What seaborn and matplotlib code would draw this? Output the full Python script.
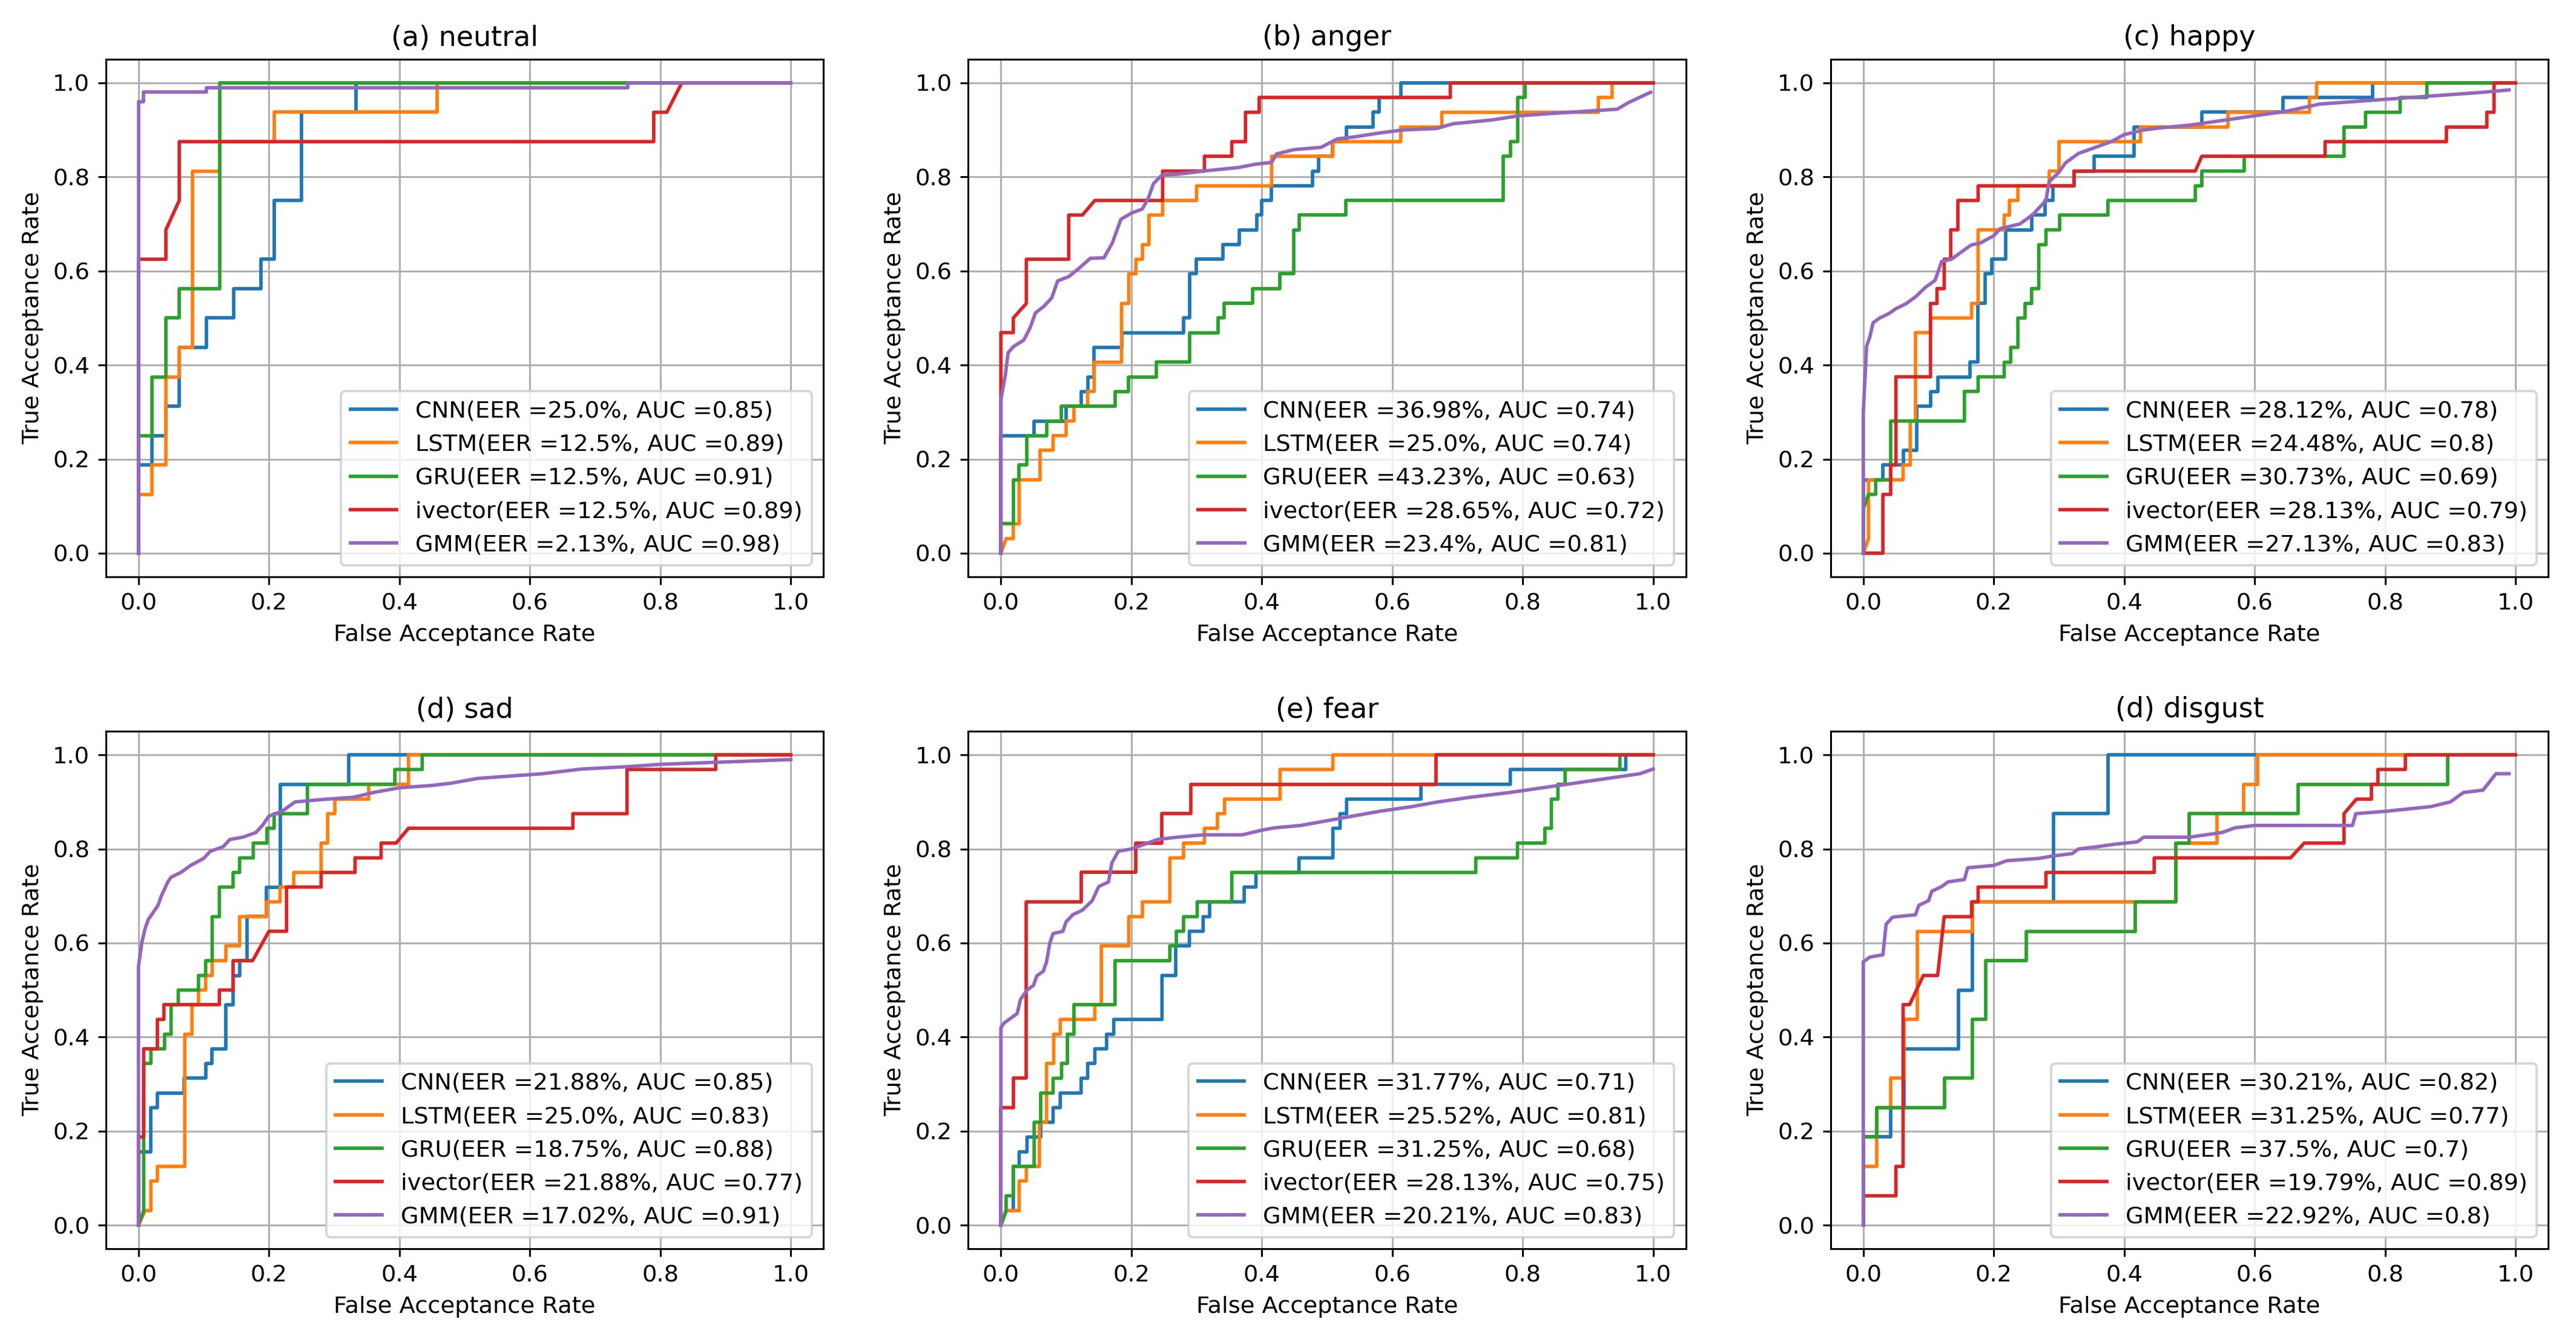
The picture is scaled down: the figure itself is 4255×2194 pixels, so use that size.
import matplotlib
matplotlib.use("Agg")
import matplotlib.pyplot as plt
import seaborn as sns

# ROC points: (false acceptance rate, true acceptance rate)
models = ["CNN", "LSTM", "GRU", "ivector", "GMM"]
titles = ["(a) neutral", "(b) anger", "(c) happy", "(d) sad", "(e) fear", "(d) disgust"]

eer_neutral = ["25.0", "12.5", "12.5", "12.5", "2.13"]
auc_neutral = ["0.85", "0.89", "0.91", "0.89", "0.98"]
eer_anger = ["36.98", "25.0", "43.23", "28.65", "23.4"]
auc_anger = ["0.74", "0.74", "0.63", "0.72", "0.81"]
eer_happy = ["28.12", "24.48", "30.73", "28.13", "27.13"]
auc_happy = ["0.78", "0.8", "0.69", "0.79", "0.83"]
eer_sad = ["21.88", "25.0", "18.75", "21.88", "17.02"]
auc_sad = ["0.85", "0.83", "0.88", "0.77", "0.91"]
eer_fear = ["31.77", "25.52", "31.25", "28.13", "20.21"]
auc_fear = ["0.71", "0.81", "0.68", "0.75", "0.83"]
eer_disgust = ["30.21", "31.25", "37.5", "19.79", "22.92"]
auc_disgust = ["0.82", "0.77", "0.7", "0.89", "0.8"]

# neutral
neutral_cnn = [(0, 0), (0, 0.1875), (0.021, 0.1875), (0.021, 0.25), (0.042, 0.25), (0.042, 0.3125),
               (0.0625, 0.3125), (0.0625, 0.4375), (0.104, 0.4375), (0.104, 0.5), (0.146, 0.5),
               (0.146, 0.5625), (0.1875, 0.5625), (0.1875, 0.625), (0.208, 0.625), (0.208, 0.75),
               (0.25, 0.75), (0.25, 0.9375), (0.333, 0.9375), (0.333, 1.0), (1.0, 1.0)]
neutral_lstm = [(0, 0), (0, 0.125), (0.021, 0.125), (0.021, 0.1875), (0.042, 0.1875), (0.042, 0.375),
                (0.0625, 0.375), (0.0625, 0.4375), (0.083, 0.4375), (0.083, 0.8125), (0.125, 0.8125),
                (0.125, 0.875), (0.208, 0.875), (0.208, 0.9375), (0.458, 0.9375), (0.458, 1.0), (1.0, 1.0)]
neutral_gru = [(0, 0), (0, 0.25), (0.021, 0.25), (0.021, 0.375), (0.042, 0.375), (0.042, 0.5),
               (0.0625, 0.5), (0.0625, 0.5625), (0.125, 0.5625), (0.125, 1.0), (1.0, 1.0)]
neutral_ivector = [(0, 0), (0, 0.625), (0.042, 0.625), (0.042, 0.6875), (0.0625, 0.75), (0.0625, 0.875),
                   (0.79, 0.875), (0.79, 0.9375), (0.81, 0.9375), (0.833, 1.0), (1.0, 1.0)]
neutral_gmm = [(0, 0), (0, 0.96), (0.008, 0.96), (0.008, 0.98), (0.104, 0.98), (0.104, 0.99),
               (0.75, 0.99), (0.75, 1.0), (1.0, 1.0)]

# anger
anger_cnn = [(0, 0), (0, 0.25), (0.051, 0.25), (0.051, 0.281), (0.1, 0.281), (0.1, 0.3125),
             (0.123, 0.3125), (0.123, 0.344), (0.133, 0.344), (0.133, 0.375), (0.143, 0.375),
             (0.143, 0.4375), (0.185, 0.4375), (0.185, 0.469), (0.28, 0.469), (0.28, 0.5),
             (0.289, 0.5), (0.289, 0.594), (0.3, 0.594), (0.3, 0.625), (0.34, 0.625), (0.34, 0.656),
             (0.365, 0.656), (0.365, 0.6875), (0.392, 0.6875), (0.392, 0.719), (0.4, 0.719),
             (0.4, 0.75), (0.415, 0.75), (0.415, 0.781), (0.478, 0.781), (0.478, 0.8125),
             (0.487, 0.8125), (0.487, 0.844), (0.508, 0.844), (0.508, 0.875), (0.53, 0.875),
             (0.53, 0.906), (0.571, 0.906), (0.571, 0.9375), (0.58, 0.9375), (0.58, 0.969),
             (0.613, 0.969), (0.613, 1.0), (1.0, 1.0)]
anger_lstm = [(0, 0), (0.008, 0.031), (0.019, 0.031), (0.019, 0.0625), (0.028, 0.0625), (0.028, 0.156),
              (0.06, 0.156), (0.06, 0.219), (0.08, 0.219), (0.08, 0.25), (0.1, 0.25), (0.1, 0.281),
              (0.112, 0.281), (0.112, 0.3125), (0.133, 0.3125), (0.133, 0.344), (0.143, 0.344),
              (0.143, 0.406), (0.185, 0.406), (0.185, 0.531), (0.196, 0.531), (0.196, 0.594),
              (0.207, 0.594), (0.207, 0.625), (0.217, 0.625), (0.217, 0.656), (0.227, 0.656),
              (0.227, 0.719), (0.248, 0.719), (0.248, 0.75), (0.3, 0.75), (0.3, 0.781), (0.415, 0.781),
              (0.415, 0.844), (0.509, 0.844), (0.509, 0.875), (0.613, 0.875), (0.613, 0.906),
              (0.676, 0.906), (0.676, 0.9375), (0.916, 0.9375), (0.916, 0.969), (0.937, 0.969),
              (0.937, 1.0), (1.0, 1.0)]
anger_gru = [(0, 0), (0, 0.0625), (0.019, 0.0625), (0.019, 0.156), (0.028, 0.156), (0.028, 0.1875),
             (0.04, 0.1875), (0.04, 0.25), (0.07, 0.25), (0.07, 0.281), (0.093, 0.281), (0.093, 0.3125),
             (0.175, 0.3125), (0.175, 0.344), (0.196, 0.344), (0.196, 0.375), (0.238, 0.375),
             (0.238, 0.406), (0.289, 0.406), (0.289, 0.469), (0.333, 0.469), (0.333, 0.5),
             (0.342, 0.5), (0.342, 0.531), (0.386, 0.531), (0.386, 0.5625), (0.428, 0.5625),
             (0.428, 0.594), (0.449, 0.594), (0.449, 0.6875), (0.457, 0.6875), (0.457, 0.719),
             (0.529, 0.719), (0.529, 0.75), (0.77, 0.75), (0.77, 0.844), (0.781, 0.844),
             (0.781, 0.875), (0.792, 0.875), (0.792, 0.969), (0.804, 0.969), (0.804, 1.0), (1.0, 1.0)]
anger_ivector = [(0, 0), (0, 0.469), (0.019, 0.469), (0.019, 0.5), (0.039, 0.531), (0.039, 0.625),
                 (0.104, 0.625), (0.104, 0.719), (0.125, 0.719), (0.144, 0.75), (0.248, 0.75),
                 (0.248, 0.8125), (0.312, 0.8125), (0.312, 0.844), (0.354, 0.844), (0.354, 0.875),
                 (0.375, 0.875), (0.375, 0.9375), (0.396, 0.9375), (0.396, 0.969), (0.689, 0.969),
                 (0.689, 1.0), (1.0, 1.0)]
anger_gmm = [(0, 0), (0, 0.326), (0.007, 0.381), (0.011, 0.426), (0.019, 0.439), (0.035, 0.453),
             (0.045, 0.48), (0.053, 0.511), (0.066, 0.525), (0.078, 0.543), (0.087, 0.579),
             (0.104, 0.588), (0.12, 0.606), (0.137, 0.627), (0.158, 0.628), (0.171, 0.66),
             (0.184, 0.71), (0.2, 0.723), (0.217, 0.732), (0.226, 0.755), (0.234, 0.786),
             (0.247, 0.804), (0.272, 0.806), (0.314, 0.813), (0.364, 0.82), (0.39, 0.827),
             (0.415, 0.831), (0.423, 0.849), (0.449, 0.858), (0.491, 0.863), (0.516, 0.881),
             (0.541, 0.885), (0.583, 0.894), (0.617, 0.9), (0.668, 0.903), (0.693, 0.913),
             (0.752, 0.921), (0.794, 0.93), (0.844, 0.935), (0.945, 0.944), (0.962, 0.958),
             (0.996, 0.98)]

# happy
happy_cnn = [(0, 0), (0, 0.156), (0.03, 0.156), (0.03, 0.1875), (0.061, 0.1875), (0.061, 0.219),
             (0.082, 0.219), (0.082, 0.3125), (0.103, 0.3125), (0.103, 0.344), (0.114, 0.344),
             (0.114, 0.375), (0.164, 0.375), (0.164, 0.406), (0.176, 0.406), (0.176, 0.531),
             (0.187, 0.531), (0.187, 0.594), (0.197, 0.594), (0.197, 0.625), (0.218, 0.625),
             (0.218, 0.6875), (0.258, 0.6875), (0.258, 0.719), (0.279, 0.719), (0.279, 0.75),
             (0.291, 0.75), (0.291, 0.781), (0.323, 0.781), (0.323, 0.8125), (0.354, 0.8125),
             (0.354, 0.844), (0.415, 0.844), (0.415, 0.906), (0.519, 0.906), (0.519, 0.9375),
             (0.643, 0.9375), (0.643, 0.969), (0.781, 0.969), (0.781, 1.0), (1.0, 1.0)]
happy_lstm = [(0, 0), (0.008, 0.031), (0.008, 0.156), (0.061, 0.156), (0.061, 0.1875), (0.072, 0.1875),
              (0.072, 0.281), (0.08, 0.281), (0.08, 0.469), (0.103, 0.469), (0.103, 0.5), (0.166, 0.5),
              (0.166, 0.531), (0.176, 0.531), (0.176, 0.6875), (0.216, 0.6875), (0.216, 0.719),
              (0.224, 0.719), (0.224, 0.75), (0.237, 0.75), (0.237, 0.781), (0.285, 0.781),
              (0.285, 0.8125), (0.3, 0.8125), (0.3, 0.875), (0.425, 0.875), (0.425, 0.906),
              (0.559, 0.906), (0.559, 0.9375), (0.684, 0.9375), (0.684, 0.969), (0.695, 0.969),
              (0.695, 1.0), (1.0, 1.0)]
happy_gru = [(0, 0), (0, 0.094), (0.008, 0.125), (0.019, 0.125), (0.019, 0.156), (0.042, 0.156),
             (0.042, 0.281), (0.155, 0.281), (0.155, 0.344), (0.176, 0.344), (0.176, 0.375),
             (0.216, 0.375), (0.216, 0.406), (0.226, 0.406), (0.226, 0.4375), (0.237, 0.4375),
             (0.237, 0.5), (0.248, 0.5), (0.248, 0.531), (0.258, 0.531), (0.258, 0.5625),
             (0.269, 0.5625), (0.269, 0.656), (0.28, 0.656), (0.28, 0.6875), (0.301, 0.6875),
             (0.301, 0.719), (0.375, 0.719), (0.375, 0.75), (0.509, 0.75), (0.509, 0.781),
             (0.519, 0.781), (0.519, 0.8125), (0.584, 0.8125), (0.584, 0.844), (0.737, 0.844),
             (0.737, 0.906), (0.77, 0.906), (0.77, 0.9375), (0.823, 0.9375), (0.823, 0.969),
             (0.864, 0.969), (0.864, 1.0), (1.0, 1.0)]
happy_ivector = [(0, 0), (0.03, 0), (0.03, 0.125), (0.042, 0.125), (0.042, 0.1875), (0.05, 0.1875),
                 (0.05, 0.375), (0.103, 0.375), (0.103, 0.531), (0.113, 0.531), (0.113, 0.5625),
                 (0.124, 0.5625), (0.124, 0.625), (0.134, 0.625), (0.134, 0.6875), (0.145, 0.6875),
                 (0.145, 0.75), (0.176, 0.75), (0.176, 0.781), (0.323, 0.781), (0.323, 0.8125),
                 (0.509, 0.8125), (0.519, 0.844), (0.708, 0.844), (0.708, 0.875), (0.894, 0.875),
                 (0.894, 0.906), (0.956, 0.906), (0.956, 0.9375), (0.967, 0.9375), (0.967, 1.0),
                 (1.0, 1.0)]
happy_gmm = [(0, 0), (0, 0.3), (0.005, 0.44), (0.01, 0.46), (0.015, 0.49), (0.025, 0.5), (0.04, 0.51),
             (0.05, 0.52), (0.065, 0.53), (0.08, 0.545), (0.095, 0.565), (0.11, 0.58), (0.12, 0.62),
             (0.135, 0.625), (0.15, 0.64), (0.165, 0.655), (0.18, 0.66), (0.2, 0.675), (0.21, 0.69),
             (0.24, 0.7), (0.26, 0.72), (0.28, 0.75), (0.285, 0.79), (0.3, 0.81), (0.31, 0.83),
             (0.33, 0.85), (0.36, 0.865), (0.38, 0.875), (0.4, 0.89), (0.43, 0.9), (0.46, 0.905),
             (0.5, 0.91), (0.55, 0.92), (0.6, 0.93), (0.65, 0.94), (0.7, 0.955), (0.75, 0.96),
             (0.8, 0.965), (0.85, 0.97), (0.9, 0.975), (0.95, 0.98), (0.99, 0.985)]

# sad
sad_cnn = [(0, 0), (0, 0.156), (0.019, 0.156), (0.019, 0.25), (0.029, 0.25), (0.029, 0.281),
           (0.07, 0.281), (0.07, 0.3125), (0.103, 0.3125), (0.103, 0.344), (0.113, 0.344),
           (0.113, 0.375), (0.134, 0.375), (0.134, 0.469), (0.145, 0.469), (0.145, 0.531),
           (0.155, 0.531), (0.155, 0.5625), (0.166, 0.5625), (0.166, 0.656), (0.196, 0.656),
           (0.196, 0.719), (0.217, 0.719), (0.217, 0.9375), (0.322, 0.9375), (0.322, 1.0), (1.0, 1.0)]
sad_lstm = [(0, 0), (0.01, 0.031), (0.019, 0.031), (0.019, 0.094), (0.029, 0.094), (0.029, 0.125),
            (0.071, 0.125), (0.071, 0.406), (0.082, 0.406), (0.082, 0.469), (0.092, 0.469),
            (0.092, 0.5), (0.103, 0.5), (0.103, 0.531), (0.113, 0.531), (0.113, 0.5625),
            (0.134, 0.5625), (0.134, 0.594), (0.155, 0.594), (0.155, 0.656), (0.196, 0.656),
            (0.196, 0.6875), (0.217, 0.6875), (0.217, 0.719), (0.238, 0.719), (0.238, 0.75),
            (0.28, 0.75), (0.28, 0.8125), (0.29, 0.8125), (0.29, 0.875), (0.301, 0.875),
            (0.301, 0.906), (0.353, 0.906), (0.353, 0.9375), (0.414, 0.9375), (0.414, 1.0), (1.0, 1.0)]
sad_gru = [(0, 0), (0.008, 0.031), (0.008, 0.344), (0.019, 0.344), (0.019, 0.375), (0.04, 0.375),
           (0.04, 0.406), (0.05, 0.406), (0.05, 0.469), (0.061, 0.469), (0.061, 0.5), (0.092, 0.5),
           (0.092, 0.531), (0.103, 0.531), (0.103, 0.5625), (0.113, 0.5625), (0.113, 0.656),
           (0.124, 0.656), (0.124, 0.719), (0.145, 0.719), (0.145, 0.75), (0.155, 0.75),
           (0.155, 0.781), (0.176, 0.781), (0.176, 0.8125), (0.197, 0.8125), (0.197, 0.844),
           (0.208, 0.844), (0.208, 0.875), (0.259, 0.875), (0.259, 0.9375), (0.393, 0.9375),
           (0.393, 0.969), (0.435, 0.969), (0.435, 1.0), (1.0, 1.0)]
sad_ivector = [(0, 0), (0, 0.1875), (0.008, 0.1875), (0.008, 0.375), (0.029, 0.375), (0.029, 0.4375),
               (0.039, 0.4375), (0.039, 0.469), (0.124, 0.469), (0.124, 0.5), (0.145, 0.5),
               (0.145, 0.5625), (0.175, 0.5625), (0.2, 0.625), (0.227, 0.625), (0.227, 0.719),
               (0.28, 0.719), (0.28, 0.75), (0.332, 0.75), (0.332, 0.781), (0.372, 0.781),
               (0.372, 0.8125), (0.395, 0.8125), (0.414, 0.844), (0.666, 0.844), (0.666, 0.875),
               (0.749, 0.875), (0.749, 0.969), (0.885, 0.969), (0.885, 1.0), (1.0, 1.0)]
sad_gmm = [(0, 0), (0, 0.55), (0.005, 0.6), (0.01, 0.63), (0.015, 0.65), (0.02, 0.66), (0.03, 0.68),
           (0.035, 0.7), (0.045, 0.73), (0.05, 0.74), (0.065, 0.75), (0.08, 0.765), (0.1, 0.78),
           (0.11, 0.795), (0.13, 0.805), (0.14, 0.82), (0.16, 0.825), (0.18, 0.835), (0.19, 0.85),
           (0.2, 0.87), (0.22, 0.88), (0.24, 0.9), (0.28, 0.905), (0.33, 0.91), (0.36, 0.92),
           (0.4, 0.93), (0.45, 0.935), (0.48, 0.94), (0.52, 0.95), (0.57, 0.955), (0.62, 0.96),
           (0.68, 0.97), (0.75, 0.975), (0.8, 0.98), (0.9, 0.985), (1.0, 0.99)]

# fear
fear_cnn = [(0, 0), (0.008, 0.031), (0.019, 0.031), (0.019, 0.125), (0.028, 0.125), (0.028, 0.156),
            (0.04, 0.156), (0.04, 0.1875), (0.061, 0.1875), (0.061, 0.219), (0.08, 0.219),
            (0.08, 0.25), (0.091, 0.25), (0.091, 0.281), (0.123, 0.281), (0.123, 0.3125),
            (0.133, 0.3125), (0.133, 0.344), (0.144, 0.344), (0.144, 0.375), (0.162, 0.375),
            (0.162, 0.406), (0.173, 0.406), (0.173, 0.4375), (0.247, 0.4375), (0.247, 0.531),
            (0.268, 0.531), (0.268, 0.594), (0.289, 0.594), (0.289, 0.625), (0.31, 0.625),
            (0.31, 0.656), (0.32, 0.656), (0.32, 0.6875), (0.373, 0.6875), (0.373, 0.719),
            (0.391, 0.719), (0.391, 0.75), (0.457, 0.75), (0.457, 0.781), (0.509, 0.781),
            (0.509, 0.844), (0.52, 0.844), (0.52, 0.875), (0.53, 0.875), (0.53, 0.906),
            (0.644, 0.906), (0.644, 0.9375), (0.781, 0.9375), (0.781, 0.969), (0.958, 0.969),
            (0.958, 1.0), (1.0, 1.0)]
fear_lstm = [(0, 0), (0.008, 0.031), (0.028, 0.031), (0.028, 0.094), (0.039, 0.094), (0.039, 0.125),
             (0.059, 0.125), (0.059, 0.219), (0.07, 0.219), (0.07, 0.344), (0.081, 0.344),
             (0.081, 0.406), (0.091, 0.406), (0.091, 0.4375), (0.144, 0.4375), (0.144, 0.469),
             (0.154, 0.469), (0.154, 0.594), (0.196, 0.594), (0.196, 0.656), (0.217, 0.656),
             (0.217, 0.6875), (0.259, 0.6875), (0.259, 0.781), (0.28, 0.781), (0.28, 0.8125),
             (0.312, 0.8125), (0.312, 0.844), (0.332, 0.844), (0.332, 0.875), (0.343, 0.875),
             (0.343, 0.906), (0.428, 0.906), (0.428, 0.969), (0.509, 0.969), (0.509, 1.0), (1.0, 1.0)]
fear_gru = [(0, 0), (0.008, 0.031), (0.008, 0.0625), (0.019, 0.0625), (0.019, 0.125), (0.051, 0.125),
            (0.051, 0.219), (0.061, 0.219), (0.061, 0.281), (0.08, 0.281), (0.08, 0.3125),
            (0.093, 0.3125), (0.093, 0.344), (0.102, 0.344), (0.102, 0.406), (0.112, 0.406),
            (0.112, 0.469), (0.175, 0.469), (0.175, 0.5625), (0.259, 0.5625), (0.259, 0.594),
            (0.269, 0.594), (0.269, 0.625), (0.28, 0.625), (0.28, 0.656), (0.301, 0.656),
            (0.301, 0.6875), (0.354, 0.6875), (0.354, 0.75), (0.728, 0.75), (0.728, 0.781),
            (0.792, 0.781), (0.792, 0.8125), (0.834, 0.8125), (0.834, 0.844), (0.844, 0.844),
            (0.844, 0.906), (0.854, 0.906), (0.854, 0.9375), (0.865, 0.9375), (0.865, 0.969),
            (0.949, 0.969), (0.949, 1.0), (1.0, 1.0)]
fear_ivector = [(0, 0), (0, 0.25), (0.019, 0.25), (0.019, 0.3125), (0.039, 0.3125), (0.039, 0.6875),
                (0.123, 0.6875), (0.123, 0.75), (0.207, 0.75), (0.207, 0.8125), (0.247, 0.8125),
                (0.247, 0.875), (0.291, 0.875), (0.291, 0.9375), (0.667, 0.9375), (0.667, 1.0),
                (1.0, 1.0)]
fear_gmm = [(0, 0), (0, 0.42), (0.005, 0.43), (0.015, 0.44), (0.025, 0.45), (0.03, 0.48), (0.04, 0.5),
            (0.05, 0.51), (0.055, 0.53), (0.065, 0.54), (0.07, 0.56), (0.075, 0.6), (0.08, 0.62),
            (0.095, 0.625), (0.1, 0.645), (0.11, 0.66), (0.125, 0.67), (0.14, 0.69), (0.15, 0.72),
            (0.165, 0.73), (0.17, 0.77), (0.18, 0.795), (0.2, 0.8), (0.22, 0.81), (0.24, 0.82),
            (0.27, 0.825), (0.31, 0.83), (0.37, 0.83), (0.4, 0.84), (0.42, 0.845), (0.46, 0.85),
            (0.5, 0.86), (0.54, 0.87), (0.58, 0.88), (0.63, 0.89), (0.67, 0.9), (0.72, 0.91),
            (0.78, 0.92), (0.83, 0.93), (0.88, 0.94), (0.93, 0.95), (0.98, 0.96), (1.0, 0.97)]

# disgust
disgust_cnn = [(0, 0), (0, 0.1875), (0.042, 0.1875), (0.042, 0.25), (0.0625, 0.25), (0.0625, 0.375),
               (0.146, 0.375), (0.146, 0.5), (0.167, 0.5), (0.167, 0.6875), (0.292, 0.6875),
               (0.292, 0.875), (0.375, 0.875), (0.375, 1.0), (1.0, 1.0)]
disgust_lstm = [(0, 0), (0, 0.125), (0.021, 0.125), (0.021, 0.25), (0.042, 0.25), (0.042, 0.3125),
                (0.0625, 0.3125), (0.0625, 0.4375), (0.083, 0.4375), (0.083, 0.625), (0.167, 0.625),
                (0.167, 0.6875), (0.479, 0.6875), (0.479, 0.8125), (0.542, 0.8125), (0.542, 0.875),
                (0.583, 0.875), (0.583, 0.9375), (0.604, 0.9375), (0.604, 1.0), (1.0, 1.0)]
disgust_gru = [(0, 0), (0, 0.1875), (0.021, 0.1875), (0.021, 0.25), (0.125, 0.25), (0.125, 0.3125),
               (0.167, 0.3125), (0.167, 0.4375), (0.1875, 0.4375), (0.1875, 0.5625), (0.25, 0.5625),
               (0.25, 0.625), (0.417, 0.625), (0.417, 0.6875), (0.479, 0.6875), (0.479, 0.8125),
               (0.5, 0.8125), (0.5, 0.875), (0.667, 0.875), (0.667, 0.9375), (0.896, 0.9375),
               (0.896, 1.0), (1.0, 1.0)]
disgust_ivector = [(0, 0), (0, 0.0625), (0.05, 0.0625), (0.05, 0.125), (0.061, 0.125), (0.061, 0.469),
                   (0.071, 0.469), (0.092, 0.531), (0.114, 0.531), (0.124, 0.656), (0.166, 0.656),
                   (0.166, 0.6875), (0.176, 0.6875), (0.176, 0.719), (0.28, 0.719), (0.28, 0.75),
                   (0.446, 0.75), (0.446, 0.781), (0.655, 0.781), (0.676, 0.8125), (0.737, 0.8125),
                   (0.737, 0.875), (0.756, 0.906), (0.779, 0.906), (0.779, 0.9375), (0.789, 0.9375),
                   (0.789, 0.969), (0.831, 0.969), (0.831, 1.0), (1.0, 1.0)]
disgust_gmm = [(0, 0), (0, 0.56), (0.01, 0.57), (0.03, 0.575), (0.035, 0.64), (0.045, 0.655),
               (0.08, 0.66), (0.085, 0.68), (0.1, 0.69), (0.105, 0.71), (0.12, 0.72), (0.13, 0.73),
               (0.155, 0.735), (0.16, 0.76), (0.2, 0.765), (0.22, 0.775), (0.27, 0.78), (0.29, 0.785),
               (0.32, 0.79), (0.33, 0.8), (0.36, 0.805), (0.385, 0.81), (0.42, 0.815), (0.43, 0.825),
               (0.5, 0.825), (0.55, 0.835), (0.57, 0.845), (0.6, 0.85), (0.75, 0.85), (0.755, 0.875),
               (0.8, 0.88), (0.87, 0.89), (0.9, 0.9), (0.92, 0.92), (0.95, 0.925), (0.97, 0.96),
               (0.99, 0.96)]

panels = [
    ([neutral_cnn, neutral_lstm, neutral_gru, neutral_ivector, neutral_gmm], eer_neutral, auc_neutral),
    ([anger_cnn, anger_lstm, anger_gru, anger_ivector, anger_gmm], eer_anger, auc_anger),
    ([happy_cnn, happy_lstm, happy_gru, happy_ivector, happy_gmm], eer_happy, auc_happy),
    ([sad_cnn, sad_lstm, sad_gru, sad_ivector, sad_gmm], eer_sad, auc_sad),
    ([fear_cnn, fear_lstm, fear_gru, fear_ivector, fear_gmm], eer_fear, auc_fear),
    ([disgust_cnn, disgust_lstm, disgust_gru, disgust_ivector, disgust_gmm], eer_disgust, auc_disgust),
]

colors = sns.color_palette("tab10", 5)

fig, axes = plt.subplots(2, 3, figsize=(4255 / 276, 2194 / 276), dpi=276)
fig.subplots_adjust(left=0.0411, right=0.9892, top=0.9553, bottom=0.0597, wspace=0.202, hspace=0.299)

for ax, title, (curves, eers, aucs) in zip(axes.flat, titles, panels):
    for i, pts in enumerate(curves):
        fpr = [p[0] for p in pts]
        tpr = [p[1] for p in pts]
        lab = f"{models[i]}(EER ={eers[i]}%, AUC ={aucs[i]})"
        sns.lineplot(x=fpr, y=tpr, sort=False, estimator=None, ax=ax,
                     color=colors[i], linewidth=1.5, label=lab)
    ax.set_xlim(-0.05, 1.05)
    ax.set_ylim(-0.05, 1.05)
    ax.set_xticks([0, 0.2, 0.4, 0.6, 0.8, 1.0])
    ax.set_yticks([0, 0.2, 0.4, 0.6, 0.8, 1.0])
    ax.grid(True)
    ax.set_title(title)
    ax.set_xlabel("False Acceptance Rate")
    ax.set_ylabel("True Acceptance Rate")
    ax.legend(loc="lower right")

fig.savefig("out.png", dpi=276)
